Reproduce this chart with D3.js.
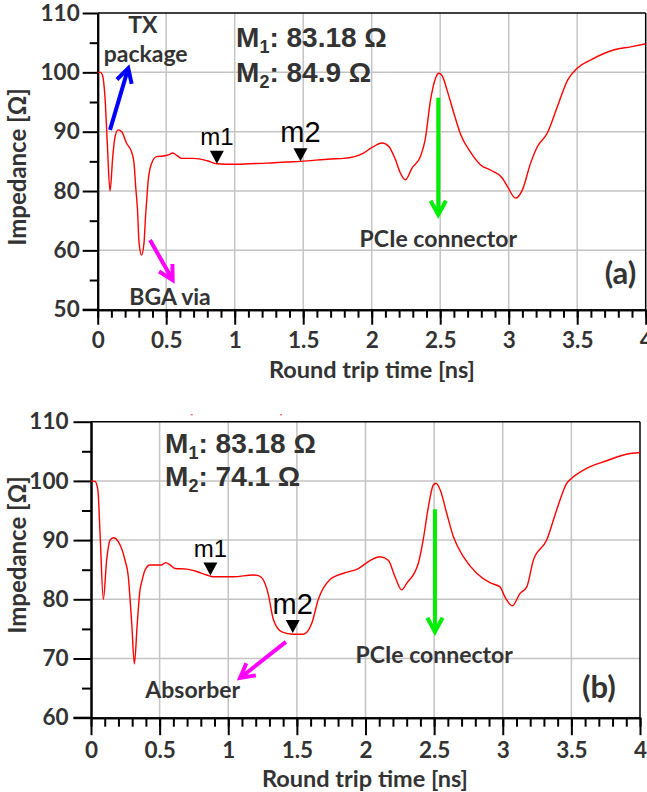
<!DOCTYPE html>
<html>
<head>
<meta charset="utf-8">
<script src="https://cdn.jsdelivr.net/npm/d3@7"></script>
<style>
  body { margin: 0; background: #fff; }
  svg { display: block; }
</style>
</head>
<body>
<svg id="chart" width="647" height="792"></svg>
<script>
// --- DATA ---
const xTicks = [0, 0.5, 1, 1.5, 2, 2.5, 3, 3.5, 4];
const xTickLabels = ["0", "0.5", "1", "1.5", "2", "2.5", "3", "3.5", "4"];
const xMinor = d3.range(0, 4.01, 0.1);

// panel (a) axis is relabelled: 50, 60, 80, 90, 100, 110 on equally spaced lines
const yTicksA = [50, 60, 80, 90, 100, 110];
const yMinorA = [55, 70, 85, 95, 105];
const yTicksB = [60, 70, 80, 90, 100, 110];
const yMinorB = [65, 75, 85, 95, 105];

// round trip time [ns], impedance [ohm]
const curveA = [[0,100],[0.02,100],[0.034,99.6],[0.053,95.9],[0.07,88.1],[0.09,80],[0.11,85.8],[0.127,89.2],
  [0.15,90.3],[0.175,90.0],[0.21,88.1],[0.25,86.4],[0.265,84.7],[0.278,80.5],[0.29,74],[0.302,62.5],[0.32,59.2],
  [0.338,62.5],[0.35,72],[0.358,77],[0.369,81.9],[0.394,84.7],[0.43,85.8],[0.479,85.9],[0.516,86.1],[0.548,86.4],
  [0.577,86.0],[0.613,85.5],[0.70,85.5],[0.80,85.1],[0.87,84.6],[0.99,84.5],[1.11,84.6],[1.235,84.7],[1.38,84.9],
  [1.48,85.0],[1.70,85.4],[1.795,85.5],[1.94,86.4],[2.0,87.3],[2.076,88.1],[2.125,87.5],[2.173,85.3],[2.21,83.0],
  [2.246,81.9],[2.295,83.9],[2.356,85.8],[2.39,88.6],[2.43,95.4],[2.466,99.0],[2.49,99.85],[2.515,99.4],[2.55,97.0],
  [2.6,93.1],[2.65,89.5],[2.72,86.6],[2.795,84.4],[2.87,83.5],[2.953,82.2],[2.99,80.8],[3.05,77.6],[3.1,80.2],
  [3.16,84.7],[3.21,87.5],[3.28,89.7],[3.355,94.2],[3.43,98.7],[3.50,100.7],[3.60,102.1],[3.77,103.8],[3.89,104.3],[4.0,104.8]];

const curveB = [[0,100],[0.03,99.9],[0.05,98.5],[0.066,91.1],[0.09,80.0],[0.114,86.6],[0.139,90.0],[0.163,90.4],
  [0.2,89.7],[0.248,86.6],[0.272,83.8],[0.285,79.9],[0.297,75.9],[0.316,69.1],[0.337,75.9],[0.357,81.6],[0.37,83],
  [0.394,84.95],[0.43,85.8],[0.479,85.8],[0.515,85.8],[0.544,86.2],[0.576,85.8],[0.612,85.2],[0.697,85.1],[0.77,84.7],
  [0.843,84.1],[0.89,83.8],[1.04,83.8],[1.18,84.1],[1.22,84.0],[1.255,83.3],[1.29,81.0],[1.33,76.5],[1.39,74.5],
  [1.474,74.1],[1.547,74.1],[1.608,75.9],[1.655,79.9],[1.74,83.3],[1.84,84.4],[1.948,85.2],[2.03,86.5],[2.105,87.2],
  [2.166,86.6],[2.215,83.8],[2.264,81.6],[2.3,82.7],[2.385,86.1],[2.42,90.0],[2.458,95.6],[2.494,99.3],[2.514,99.6],
  [2.544,98.5],[2.592,94.5],[2.64,90.6],[2.713,87.2],[2.81,84.4],[2.907,82.8],[2.98,82.1],[3.016,80.4],[3.07,78.9],
  [3.126,81.0],[3.175,82.1],[3.223,86.6],[3.32,90.0],[3.393,95.1],[3.466,99.6],[3.5,100.4],[3.61,102.1],[3.757,103.4],
  [3.9,104.5],[4.0,104.8]];

// markers m1 / m2 [time, impedance]
const markersA = [{name: "m1", t: 0.87, z: 84.6, size: 24}, {name: "m2", t: 1.48, z: 85.0, size: 29}];
const markersB = [{name: "m1", t: 0.87, z: 84.0, size: 24}, {name: "m2", t: 1.47, z: 74.3, size: 29}];
const readoutA = ["83.18 Ω", "84.9 Ω"];
const readoutB = ["83.18 Ω", "74.1 Ω"];

// annotation labels and arrows, in data coordinates
const labelsA = [
  {text: "TX", t: 0.33, z: 106.6}, {text: "package", t: 0.35, z: 101.75},
  {text: "BGA via", t: 0.528, z: 50.8}, {text: "PCIe connector", t: 2.486, z: 61.3},
  {text: "(a)", t: 3.816, z: 54.3, size: 31}
];
const arrowsA = [
  {from: [0.09, 90.3], to: [0.223, 100.7], color: "#0000ff"},
  {from: [0.382, 63.5], to: [0.547, 55.0], color: "#ff00ff"},
  {from: [2.486, 95.7], to: [2.486, 72.0], color: "#00ee00"}
];
const labelsB = [
  {text: "Absorber", t: 0.741, z: 63.4}, {text: "PCIe connector", t: 2.5, z: 69.2},
  {text: "(b)", t: 3.70, z: 63.3, size: 31}
];
const arrowsB = [
  {from: [1.42, 72.8], to: [1.086, 66.7], color: "#ff00ff"},
  {from: [2.506, 95.2], to: [2.506, 74.5], color: "#00ee00"}
];
const straysB = [[0.734, 111.25], [1.384, 111.25]];

// --- DRAW ---
const svg = d3.select("#chart");
svg.append("rect").attr("width", 647).attr("height", 792).attr("fill", "#fff");

const TICK_FONT = "Lato, 'Open Sans', sans-serif";

function drawPanel(p) {
  const g = svg.append("g");
  const x = d3.scaleLinear().domain([0, 4]).range([p.left, p.right]);
  const y = p.y;

  // grid
  g.append("g").selectAll("line").data(xTicks.slice(1, -1)).join("line")
    .attr("x1", d => x(d)).attr("x2", d => x(d)).attr("y1", p.top).attr("y2", p.bottom)
    .attr("stroke", "#c4c4c4").attr("stroke-width", 1.5);
  g.append("g").selectAll("line").data(p.yTicks.slice(1, -1)).join("line")
    .attr("x1", p.left).attr("x2", p.right).attr("y1", d => y(d)).attr("y2", d => y(d))
    .attr("stroke", "#c4c4c4").attr("stroke-width", 1.5);

  // frame top/right
  g.append("line").attr("x1", p.left).attr("x2", p.right).attr("y1", p.top).attr("y2", p.top)
    .attr("stroke", "#000").attr("stroke-width", 1.5);
  g.append("line").attr("x1", p.right).attr("x2", p.right).attr("y1", p.top).attr("y2", p.bottom)
    .attr("stroke", "#000").attr("stroke-width", 1.5);

  // axes
  const xMinorAxis = d3.axisBottom(x).tickValues(xMinor).tickSize(p.minorLen).tickFormat("").tickSizeOuter(0);
  const xMajorAxis = d3.axisBottom(x).tickValues(xTicks).tickSize(p.majorLen).tickSizeOuter(0)
    .tickPadding(p.xPad).tickFormat((d, i) => xTickLabels[i]);
  const yMinorAxis = d3.axisLeft(y).tickValues(p.yMinor).tickSize(p.minorLen).tickFormat("").tickSizeOuter(0);
  const yMajorAxis = d3.axisLeft(y).tickValues(p.yTicks).tickSize(p.majorLen).tickSizeOuter(0)
    .tickPadding(p.yPad).tickFormat(d => d);

  [xMinorAxis, xMajorAxis].forEach(a => g.append("g").attr("transform", `translate(0,${p.bottom})`).call(a));
  [yMinorAxis, yMajorAxis].forEach(a => g.append("g").attr("transform", `translate(${p.left},0)`).call(a));
  g.selectAll(".domain").attr("stroke", "#000").attr("stroke-width", 2);
  g.selectAll(".tick line").attr("stroke", "#000").attr("stroke-width", 2);
  g.selectAll(".tick text").attr("font-family", TICK_FONT).attr("font-weight", "bold")
    .attr("font-size", 22.5).attr("fill", "#333");
  // x axis extends left to the end of the lowest y tick
  g.append("line").attr("x1", p.left - p.majorLen).attr("x2", p.left).attr("y1", p.bottom).attr("y2", p.bottom)
    .attr("stroke", "#000").attr("stroke-width", 2);

  // axis titles
  g.append("text").attr("x", p.xTitleX).attr("y", p.xTitleY)
    .attr("text-anchor", "middle").attr("font-family", TICK_FONT).attr("font-weight", "bold")
    .attr("font-size", 23.5).attr("fill", "#333").text("Round trip time [ns]");
  g.append("text").attr("transform", `translate(26,${p.yTitleY}) rotate(-90)`)
    .attr("text-anchor", "middle").attr("font-family", TICK_FONT).attr("font-weight", "bold")
    .attr("font-size", 24).attr("fill", "#333").text("Impedance [Ω]");

  // curve
  const line = d3.line().x(d => x(d[0])).y(d => y(d[1])).curve(d3.curveMonotoneX);
  g.append("path").datum(p.curve).attr("d", line)
    .attr("fill", "none").attr("stroke", "#ff0000").attr("stroke-width", 1.4);

  // markers
  p.markers.forEach(m => {
    const cx = x(m.t), cy = y(m.z);
    g.append("path").attr("d", `M${cx - 7},${cy - 13}L${cx + 7},${cy - 13}L${cx},${cy}Z`).attr("fill", "#000");
    g.append("text").attr("x", cx).attr("y", cy - 19).attr("text-anchor", "middle")
      .attr("font-family", "'Liberation Sans', Arial, sans-serif").attr("font-size", m.size)
      .attr("fill", "#000").text(m.name);
  });

  // M1 / M2 readouts
  p.readout.forEach((v, i) => {
    const t = g.append("text").attr("x", x(p.readoutPos[0])).attr("y", y(p.readoutPos[1]) + i * p.readoutGap)
      .attr("font-family", "'Liberation Sans', Arial, sans-serif").attr("font-weight", "bold")
      .attr("font-size", 28).attr("fill", "#333");
    t.append("tspan").text("M");
    t.append("tspan").attr("font-size", 18).attr("dy", 6).text(i + 1);
    t.append("tspan").attr("dy", -6).text(": " + v);
  });

  // labels
  p.labels.forEach(l => {
    g.append("text").attr("x", x(l.t)).attr("y", y(l.z)).attr("text-anchor", "middle")
      .attr("font-family", TICK_FONT).attr("font-weight", "bold").attr("font-size", l.size || 23)
      .attr("fill", "#333").text(l.text);
  });

  // arrows
  p.arrows.forEach(a => {
    const x0 = x(a.from[0]), y0 = y(a.from[1]), x1 = x(a.to[0]), y1 = y(a.to[1]);
    const ang = Math.atan2(y1 - y0, x1 - x0), L = 16, spread = 0.5;
    const h1 = [x1 - L * Math.cos(ang - spread), y1 - L * Math.sin(ang - spread)];
    const h2 = [x1 - L * Math.cos(ang + spread), y1 - L * Math.sin(ang + spread)];
    g.append("path").attr("d", `M${x0},${y0}L${x1},${y1}M${h1[0]},${h1[1]}L${x1},${y1}L${h2[0]},${h2[1]}`)
      .attr("fill", "none").attr("stroke", a.color).attr("stroke-width", 4).attr("stroke-linejoin", "miter");
  });

  (p.strays || []).forEach(s => {
    g.append("rect").attr("x", x(s[0]) - 1).attr("y", y(s[1])).attr("width", 2).attr("height", 1).attr("fill", "#f33");
  });
}

// panel (a)
const topA = 13, botA = 309.7, stepA = (botA - topA) / 5;
drawPanel({
  left: 97.7, right: 645.7, top: topA, bottom: botA,
  y: d3.scaleLinear().domain([50, 60, 80, 110]).range([botA, botA - stepA, botA - 2 * stepA, topA]),
  yTicks: yTicksA, yMinor: yMinorA, majorLen: 15, minorLen: 8, xPad: 7, yPad: 3,
  xTitleX: 372, xTitleY: 378, yTitleY: 167,
  curve: curveA, markers: markersA, readout: readoutA, readoutPos: [1.01, 104.3], readoutGap: 35,
  labels: labelsA, arrows: arrowsA
});

// panel (b)
drawPanel({
  left: 91, right: 640, top: 421.7, bottom: 717.7,
  y: d3.scaleLinear().domain([60, 110]).range([717.7, 421.7]),
  yTicks: yTicksB, yMinor: yMinorB, majorLen: 17.5, minorLen: 9, xPad: 6.5, yPad: 5,
  xTitleX: 365, xTitleY: 787, yTitleY: 555,
  curve: curveB, markers: markersB, readout: readoutB, readoutPos: [0.54, 104.7], readoutGap: 33,
  labels: labelsB, arrows: arrowsB, strays: straysB
});
</script>
</body>
</html>
